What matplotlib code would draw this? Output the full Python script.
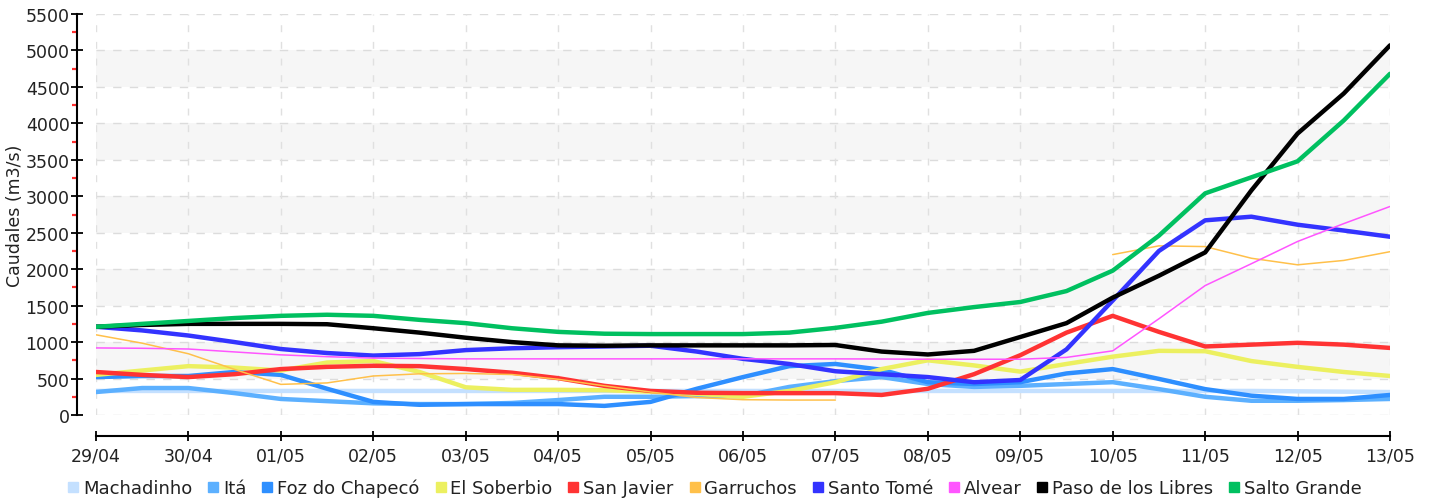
import numpy as np
import matplotlib
matplotlib.use("Agg")
import matplotlib.pyplot as plt
from matplotlib.lines import Line2D
from matplotlib.ticker import MultipleLocator

# ---- data (half-day samples from 29/04 to 13/05) ----
tick_labels = ['29/04', '30/04', '01/05', '02/05', '03/05', '04/05', '05/05',
               '06/05', '07/05', '08/05', '09/05', '10/05', '11/05', '12/05', '13/05']
t = np.arange(0, 14.01, 0.5)  # days since 29/04

machadinho = [330, 330, 330, 330, 330, 330, 330, 330, 330, 330, 330, 330, 330, 330, 330,
              330, 330, 330, 330, 330, 330, 330, 330, 330, 330, 330, 325, 320, 315]
ita = [315, 370, 370, 300, 220, 190, 160, 150, 150, 165, 205, 250, 250, 260, 260,
       385, 465, 520, 425, 385, 400, 425, 450, 355, 250, 195, 195, 205, 220]
foz = [520, 535, 535, 590, 550, 360, 180, 140, 150, 150, 150, 125, 180, 360, 520,
       670, 700, 620, 450, 425, 450, 570, 630, 495, 355, 265, 220, 220, 275]
soberbio = [550, 610, 670, 650, 610, 720, 740, 590, 380, 345, 345, 340, 320, 290, 250,
            330, 450, 630, 750, 680, 595, 700, 800, 880, 875, 740, 660, 590, 535]
san_javier = [590, 550, 520, 560, 630, 660, 675, 670, 630, 580, 505, 400, 330, 305, 300,
              300, 300, 275, 360, 560, 820, 1130, 1360, 1140, 940, 965, 990, 965, 920]
garruchos = [1100, 985, 840, 625, 420, 440, 535, 565, 570, 555, 490, 400, 315, 240, 210,
             205, 205, np.nan, np.nan, np.nan, np.nan, np.nan, 2200, 2320, 2310, 2150, 2060, 2120, 2240]
santo_tome = [1210, 1160, 1090, 1000, 905, 850, 815, 835, 890, 915, 930, 940, 950, 870, 770,
              700, 600, 560, 520, 450, 480, 900, 1570, 2250, 2670, 2720, 2610, 2530, 2445]
alvear = [920, 915, 905, 865, 825, 800, 780, 775, 770, 770, 770, 770, 770, 770, 770,
          770, 770, 768, 765, 765, 765, 790, 880, 1320, 1775, 2075, 2380, 2625, 2860]
paso_libres = [1210, 1235, 1250, 1250, 1250, 1245, 1190, 1130, 1060, 1000, 955, 950, 955, 955, 955,
               955, 960, 870, 830, 880, 1070, 1260, 1610, 1910, 2230, 3080, 3860, 4410, 5070]
salto_grande = [1210, 1250, 1290, 1330, 1360, 1375, 1360, 1305, 1260, 1190, 1140, 1115, 1110, 1110, 1110,
                1130, 1195, 1280, 1400, 1480, 1550, 1700, 1980, 2460, 3040, 3260, 3480, 4040, 4680]

series_names = ['Machadinho', 'Itá', 'Foz do Chapecó', 'El Soberbio', 'San Javier',
                'Garruchos', 'Santo Tomé', 'Alvear', 'Paso de los Libres', 'Salto Grande']
series_values = [machadinho, ita, foz, soberbio, san_javier, garruchos, santo_tome,
                 alvear, paso_libres, salto_grande]
colors = ['#c4e0ff', '#5cb0ff', '#2e8fff', '#ecf060', '#ff3333', '#ffc04a', '#3333ff',
          '#ff55ff', '#000000', '#00c060']
widths = [3.2, 3.2, 3.2, 3.2, 3.2, 1.1, 3.2, 1.1, 3.2, 3.2]

# ---- figure ----
W, H = 1439, 502
fig = plt.figure(figsize=(W / 100, H / 100), dpi=100)
ax = fig.add_axes([96 / W, (H - 416) / H, (1390 - 96) / W, (416 - 15) / H])

ax.set_xlim(0, 14)
ax.set_ylim(0, 5500)

# alternating bands
for lo in range(500, 5500, 1000):
    ax.axhspan(lo, lo + 500, color='#f6f6f6', zorder=0, lw=0)

# grid
for yv in range(0, 5501, 500):
    ax.axhline(yv, color='#dcdcdc', lw=1.0, ls=(0, (6, 6)), zorder=1)
for xv in range(0, 15):
    ax.axvline(xv, color='#e0e0e0', lw=1.0, ls=(0, (5, 7)), zorder=1)

for name, vals, c, lw in zip(series_names, series_values, colors, widths):
    ax.plot(t, vals, color=c, lw=lw, solid_joinstyle='round', solid_capstyle='round', zorder=3)

# spines
for s in ['top', 'right']:
    ax.spines[s].set_visible(False)
ax.spines['left'].set_position(('outward', 14))
ax.spines['bottom'].set_position(('outward', 15))
ax.spines['left'].set_linewidth(1.5)
ax.spines['bottom'].set_linewidth(1.5)

ax.set_xticks(range(15))
ax.set_xticklabels(tick_labels)
ax.yaxis.set_major_locator(MultipleLocator(500))
ax.yaxis.set_minor_locator(MultipleLocator(250))
ax.tick_params(axis='y', which='major', direction='inout', length=8, width=1.3,
               labelsize=12.5, labelcolor='#222222', pad=1)
ax.tick_params(axis='y', which='minor', direction='out', length=3.5, width=1.6, color='#ff3030')
ax.tick_params(axis='x', which='major', direction='inout', length=7, width=1.3,
               labelsize=12.5, labelcolor='#222222', pad=4)

ax.set_ylabel('Caudales (m3/s)', fontsize=12.5, color='#222222')
ax.yaxis.set_label_coords((24 - 96) / (1390 - 96), 0.5)

handles = [Line2D([], [], marker='s', ls='none', markersize=7.5, color=c) for c in colors]
fig.legend(handles, series_names, loc='center', bbox_to_anchor=(715 / W, 1 - 489 / H),
           ncol=10, frameon=False, fontsize=13, handlelength=0.6, handletextpad=0.25,
           columnspacing=0.85, borderpad=0, labelcolor='#222222')

fig.savefig('out.png', dpi=100)
